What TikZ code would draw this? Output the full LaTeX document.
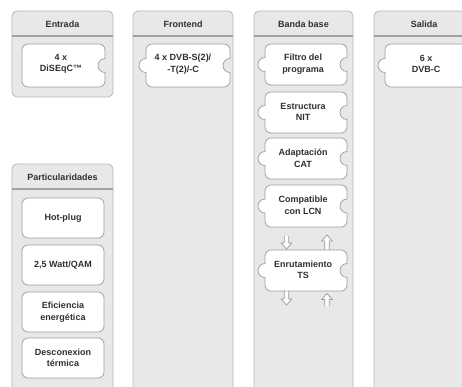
\documentclass[tikz,border=0pt]{standalone}
\usepackage{fontspec}
\setmainfont{Liberation Sans}
\usetikzlibrary{calc}
\definecolor{colfill}{HTML}{E8E8E8}
\definecolor{colline}{HTML}{B8B8B8}
\definecolor{headline}{HTML}{A2A2A2}
\definecolor{pieceline}{HTML}{9C9C9C}
\definecolor{txt}{HTML}{303030}
\tikzset{
  colbox/.style={fill=colfill, draw=colline, line width=0.8pt, rounded corners=5pt},
  headrule/.style={draw=headline, line width=2pt},
  piece/.style={fill=white, draw=pieceline, line width=0.7pt},
  blockarrow/.style={fill=white, draw=pieceline, line width=0.7pt, line join=miter},
  label/.style={font=\fontsize{9}{11.5}\selectfont\bfseries, text=txt, align=center, inner sep=0pt}
}
\def\rnotch{arc (90:270:7)}
\def\ltab{arc (-90:-270:7)}
\def\flat{}
% puzzle piece: left, top, right, bottom, left side, right side
\def\puzzle(#1,#2,#3,#4)[#5][#6]{\draw[piece] ({#1+6},#2) -- ({#3-6},#2) arc (90:0:6) -- (#3,{(#2+#4)/2+7}) #6 -- (#3,{#4+6}) arc (0:-90:6) -- ({#1+6},#4) arc (-90:-180:6) -- (#1,{(#2+#4)/2-7}) #5 -- (#1,{#2-6}) arc (180:90:6) -- cycle;}
% hollow arrows between pieces
\def\blockdown(#1)#2{\draw[blockarrow] ($(#1)+(-2.2,0)$) -- ($(#1)+(-2.2,{-#2+6})$) -- ($(#1)+(-5.3,{-#2+6})$) -- ($(#1)+(0,-#2)$) -- ($(#1)+(5.3,{-#2+6})$) -- ($(#1)+(2.2,{-#2+6})$) -- ($(#1)+(2.2,0)$);}
\def\blockup(#1)#2{\draw[blockarrow] ($(#1)+(-2.2,-#2)$) -- ($(#1)+(-2.2,-6)$) -- ($(#1)+(-5.3,-6)$) -- (#1) -- ($(#1)+(5.3,-6)$) -- ($(#1)+(2.2,-6)$) -- ($(#1)+(2.2,-#2)$);}

\begin{document}
\begin{tikzpicture}[x=1pt,y=1pt]
	\useasboundingbox (0,0) rectangle (462,-387);
	\clip (0,0) rectangle (462,-387);
	\fill[white] (0,0) rectangle (462,-387);

	% columns
	\draw[colbox] (12,-11) rectangle (113,-97);
	\draw[colbox] (133,-11) rectangle (233,-400);
	\draw[colbox] (254,-11) rectangle (353,-400);
	\draw[colbox] (374,-11) rectangle (478,-400);
	\draw[colbox] (12,-164) rectangle (113,-400);
	\draw[headrule] (12,-36) -- (113,-36);
	\draw[headrule] (133,-36) -- (233,-36);
	\draw[headrule] (254,-36) -- (353,-36);
	\draw[headrule] (374,-36) -- (478,-36);
	\draw[headrule] (12,-189) -- (113,-189);

	\node[label] (hEntrada) at (62.5,-24) {Entrada};
	\node[label] (hFrontend) at (183,-24) {Frontend};
	\node[label] (hBanda) at (303.5,-24) {Banda base};
	\node[label] (hSalida) at (424,-24) {Salida};
	\node[label] (hPart) at (62.5,-177) {Particularidades};

	% arrows
	\coordinate (dnA) at (286.5,-236);
	\coordinate (upA) at (327,-235);
	\coordinate (dnB) at (286.5,-291);
	\coordinate (upB) at (327,-293.5);
	\blockdown(dnA){13}
	\blockup(upA){16}
	\blockdown(dnB){14}
	\blockup(upB){12.5}

	% pieces
	\puzzle(22,-44,105,-87)[\flat][\rnotch]
	\puzzle(146,-44,230,-87)[\ltab][\rnotch]
	\puzzle(265,-44,347,-85)[\ltab][\rnotch]
	\puzzle(265,-92,347,-133)[\ltab][\rnotch]
	\puzzle(265,-138,347,-179)[\ltab][\rnotch]
	\puzzle(265,-185,347,-227)[\ltab][\rnotch]
	\puzzle(265,-250,347,-291)[\ltab][\rnotch]
	\puzzle(385,-44,472,-87)[\ltab][\flat]

	\node[label] (diseqc) at (61,-64) {4 x\\DiSEqC™};
	\node[label] (dvbs) at (183,-64) {4 x DVB-S(2)/\\-T(2)/-C};
	\node[label] (filtro) at (303,-64) {Filtro del\\programa};
	\node[label] (nit) at (303,-112) {Estructura\\NIT};
	\node[label] (cat) at (303,-158) {Adaptación\\CAT};
	\node[label] (lcn) at (303,-205.5) {Compatible\\con LCN};
	\node[label] (ts) at (303,-270) {Enrutamiento\\TS};
	\node[label] (dvbc) at (426,-64) {6 x\\DVB-C};

	% particularidades
	\draw[piece, rounded corners=6pt] (22,-198) rectangle (104,-238);
	\draw[piece, rounded corners=6pt] (22,-245) rectangle (104,-285);
	\draw[piece, rounded corners=6pt] (22,-292) rectangle (104,-332);
	\draw[piece, rounded corners=6pt] (22,-338) rectangle (104,-378);
	\node[label] (hotplug) at (63,-218) {Hot-plug};
	\node[label] (watt) at (63,-265) {2,5 Watt/QAM};
	\node[label] (eficiencia) at (63,-312) {Eficiencia\\energética};
	\node[label] (desconexion) at (63,-358) {Desconexion\\térmica};
\end{tikzpicture}
\end{document}
